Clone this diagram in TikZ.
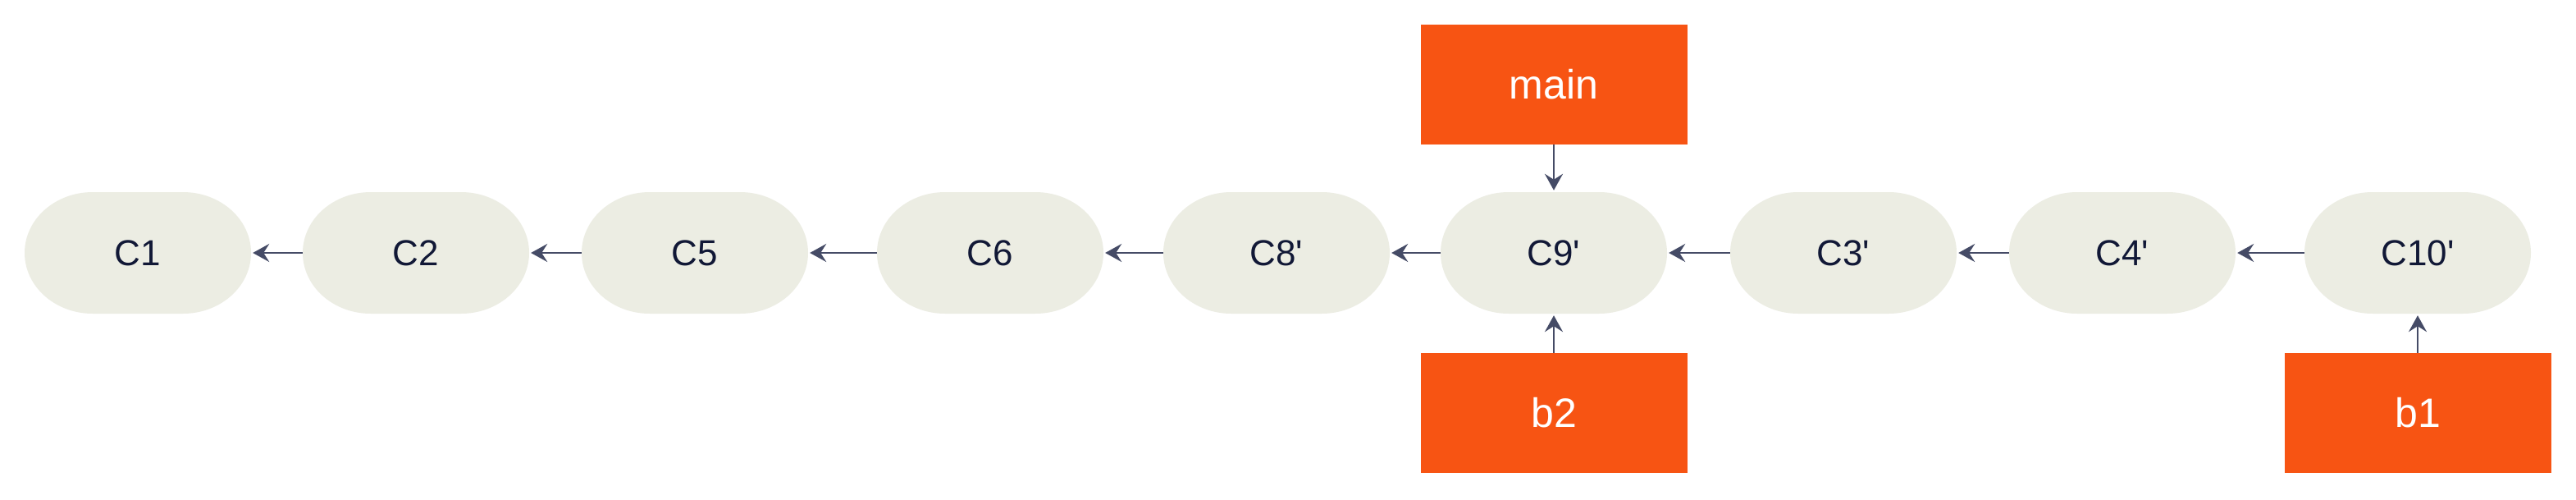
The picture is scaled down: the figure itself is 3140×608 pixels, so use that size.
\documentclass[tikz,border=0pt]{standalone}
\usepackage{fontspec}
\setmainfont{Liberation Sans}
\usetikzlibrary{arrows.meta}
\definecolor{cfill}{HTML}{ECEDE3}
\definecolor{ctext}{HTML}{111836}
\definecolor{borange}{HTML}{F75413}
\definecolor{arrowc}{HTML}{454B66}
\newcommand{\pr}{\textquotesingle}
\tikzset{
  commit/.style={minimum width=276pt, minimum height=148pt, inner sep=0pt, fill=white,
    text=ctext, font=\fontsize{44}{52}\selectfont,
    path picture={\fill[cfill] ([xshift=83pt]path picture bounding box.north west)
      arc[start angle=90,end angle=270,x radius=83pt,y radius=74pt]
      -- ([xshift=-83pt]path picture bounding box.south east)
      arc[start angle=-90,end angle=90,x radius=83pt,y radius=74pt] -- cycle;}},
  branch/.style={minimum width=325pt, minimum height=146pt, inner sep=0pt, fill=borange,
    text=white, font=\fontsize{50}{58}\selectfont},
  link/.style={draw=arrowc, line width=2.5pt, -{Stealth[length=20pt,width=22pt,inset=7pt]}, shorten >=2pt}
}
\begin{document}
\begin{tikzpicture}[x=1pt,y=1pt]
\fill[white] (0,0) rectangle (3140,-608);
\useasboundingbox (0,0) rectangle (3140,-608);
\node[commit] (c1) at (168,-308) {C1};
\node[commit] (c2) at (507,-308) {C2};
\node[commit] (c5) at (847,-308) {C5};
\node[commit] (c6) at (1207,-308) {C6};
\node[commit] (c8) at (1556,-308) {C8\pr};
\node[commit] (c9) at (1894,-308) {C9\pr};
\node[commit] (c3) at (2247,-308) {C3\pr};
\node[commit] (c4) at (2587,-308) {C4\pr};
\node[commit] (c10) at (2947,-308) {C10\pr};
\node[branch] (main) at (1894,-103) {main};
\node[branch] (b2) at (1894,-503) {b2};
\node[branch] (b1) at (2947,-503) {b1};
\draw[link] (c2) -- (c1);
\draw[link] (c5) -- (c2);
\draw[link] (c6) -- (c5);
\draw[link] (c8) -- (c6);
\draw[link] (c9) -- (c8);
\draw[link] (c3) -- (c9);
\draw[link] (c4) -- (c3);
\draw[link] (c10) -- (c4);
\draw[link] (main) -- (c9);
\draw[link] (b2) -- (c9);
\draw[link] (b1) -- (c10);
\end{tikzpicture}
\end{document}
